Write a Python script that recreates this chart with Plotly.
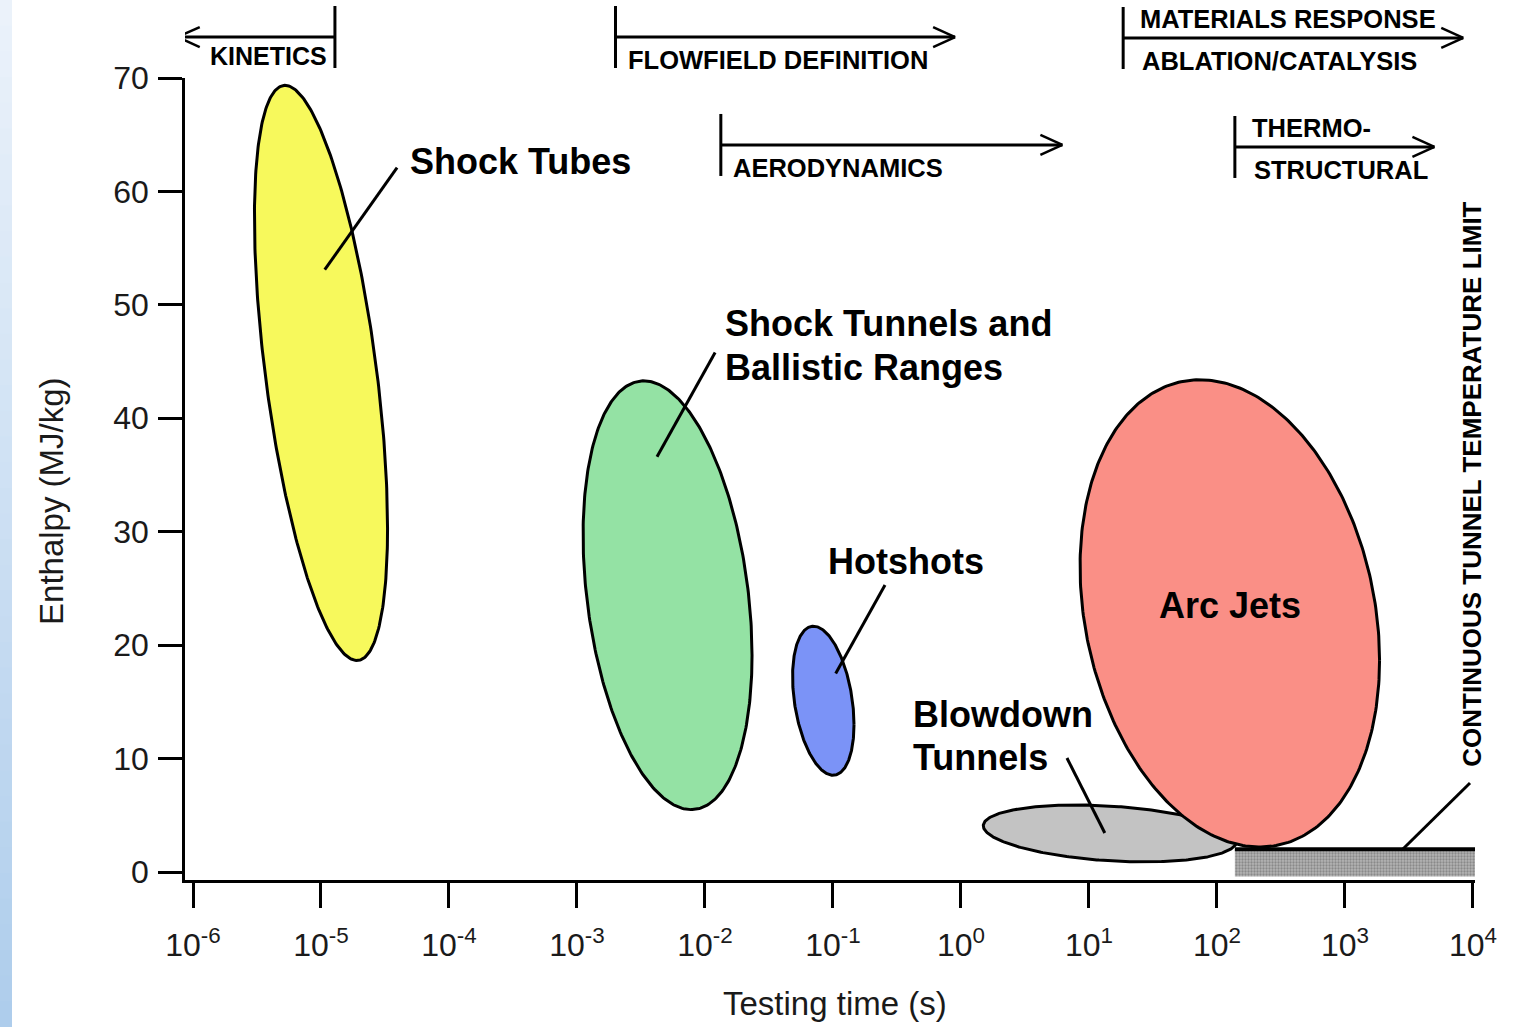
import numpy as np
import plotly.graph_objects as go

# ---------------- data ----------------
# Facility envelopes (ellipses in log(time)-enthalpy space)
facilities = ["Shock Tubes", "Shock Tunnels and Ballistic Ranges", "Hotshots",
              "Blowdown Tunnels", "Arc Jets"]
center_time = [1.0e-5, 5.1e-3, 8.4e-2, 14.6, 126.0]          # s
center_enthalpy = [44.0, 24.4, 15.1, 3.4, 22.8]               # MJ/kg
half_width_decades = [0.52, 0.66, 0.24, 0.99, 1.17]
half_height_enthalpy = [25.35, 18.9, 6.57, 2.51, 20.6]
tilt = [-0.54, -0.28, -0.32, -0.27, -0.20]
fill_colors = ["#f7f95c", "#94e2a4", "#7b93f7", "#c3c3c3", "#fa8f86"]

# Facility labels
label_text = ["Shock Tubes", "Shock Tunnels and", "Ballistic Ranges", "Hotshots",
              "Blowdown", "Tunnels", "Arc Jets"]
label_time = [4.79e-5, 1.38e-2, 1.38e-2, 8.81e-2, 0.406, 0.406, 126.0]
label_enthalpy = [62.6, 48.4, 44.5, 27.4, 13.9, 10.1, 23.5]
label_anchor = ["left", "left", "left", "left", "left", "left", "center"]

# Leader lines
leader_time = [[3.93e-5, 1.07e-5], [1.20e-2, 4.22e-3], [0.255, 0.105],
               [6.73, 13.3], [2838, 9484]]
leader_enthalpy = [[62.1, 53.1], [45.8, 36.6], [25.3, 17.5],
                   [10.05, 3.44], [2.03, 7.85]]

# Continuous tunnel temperature limit band
limit_time = [138.0, 1.04e4]
limit_enthalpy = [-0.4, 2.0]

# Test regimes (header arrows): start time, arrow tip time
regime_upper = ["", "", "", "MATERIALS RESPONSE", "THERMO-"]
regime_lower = ["KINETICS", "FLOWFIELD DEFINITION", "AERODYNAMICS",
                "ABLATION/CATALYSIS", "STRUCTURAL"]
regime_start = [1.285e-5, 2.0e-3, 1.33e-2, 18.5, 138.0]
regime_end = [7.6e-7, 0.9, 6.2, 8400.0, 5000.0]
regime_row = [1.0511, 1.0511, 0.9165, 1.0499, 0.9140]   # paper y of arrow line

x_tick_vals = [1e-6, 1e-5, 1e-4, 1e-3, 1e-2, 1e-1, 1e0, 1e1, 1e2, 1e3, 1e4]
x_tick_text = ["10<sup>-6</sup>", "10<sup>-5</sup>", "10<sup>-4</sup>", "10<sup>-3</sup>",
               "10<sup>-2</sup>", "10<sup>-1</sup>", "10<sup>0</sup>", "10<sup>1</sup>",
               "10<sup>2</sup>", "10<sup>3</sup>", "10<sup>4</sup>"]
y_tick_vals = [0, 10, 20, 30, 40, 50, 60, 70]

FONT = "Liberation Sans, Arial, sans-serif"

fig = go.Figure()

# continuous limit band
fig.add_trace(go.Scatter(
    x=[limit_time[0], limit_time[1], limit_time[1], limit_time[0], limit_time[0]],
    y=[limit_enthalpy[0], limit_enthalpy[0], limit_enthalpy[1], limit_enthalpy[1], limit_enthalpy[0]],
    mode="lines", fill="toself", line=dict(width=0, color="rgba(0,0,0,0)"),
    fillcolor="#a0a0a0",
    fillpattern=dict(shape=".", fgcolor="#5e5e5e", bgcolor="#b4b4b4", size=3, solidity=0.45),
    hoverinfo="skip", showlegend=False))
fig.add_trace(go.Scatter(
    x=limit_time, y=[limit_enthalpy[1], limit_enthalpy[1]], mode="lines",
    line=dict(color="black", width=4), hoverinfo="skip", showlegend=False))

# ellipses
t = np.linspace(0, 2 * np.pi, 361)
for i, name in enumerate(facilities):
    lx = np.log10(center_time[i]) + half_width_decades[i] * np.cos(t)
    r = tilt[i]
    yy = center_enthalpy[i] + half_height_enthalpy[i] * (r * np.cos(t) + np.sqrt(1 - r * r) * np.sin(t))
    fig.add_trace(go.Scatter(
        x=10 ** lx, y=yy, mode="lines", fill="toself", fillcolor=fill_colors[i],
        line=dict(color="black", width=3), name=name, hoverinfo="name", showlegend=False))

# leader lines
for lt, le in zip(leader_time, leader_enthalpy):
    fig.add_trace(go.Scatter(x=lt, y=le, mode="lines", line=dict(color="black", width=3),
                             hoverinfo="skip", showlegend=False))

annotations = []
for txt, lt, le, anc in zip(label_text, label_time, label_enthalpy, label_anchor):
    annotations.append(dict(x=np.log10(lt), y=le, xref="x", yref="y", text="<b>%s</b>" % txt,
                            showarrow=False, xanchor=anc, yanchor="middle",
                            font=dict(family=FONT, size=36, color="black")))

PX_PER_DECADE = 128.0
shapes = []
for i in range(len(regime_lower)):
    s, e, row = regime_start[i], regime_end[i], regime_row[i]
    # start bar
    shapes.append(dict(type="line", xref="x", yref="paper", x0=s, x1=s,
                       ysizemode="pixel", yanchor=row, y0=-31, y1=31,
                       line=dict(color="black", width=3)))
    # main line
    shapes.append(dict(type="line", xref="x", yref="paper", x0=s, x1=e, y0=row, y1=row,
                       line=dict(color="black", width=3)))
    # open chevron head
    back = e * 10 ** ((22 if e < s else -22) / PX_PER_DECADE)
    for dy in (10, -10):
        shapes.append(dict(type="line", xref="x", yref="paper", x0=e, x1=back,
                           ysizemode="pixel", yanchor=row, y0=0, y1=dy,
                           line=dict(color="black", width=2.5)))
    lx = np.log10(s)
    if i == 0:
        annotations.append(dict(x=lx, y=row, xref="x", yref="paper", yshift=-19, xshift=-6,
                                text="<b>%s</b>" % regime_lower[i], showarrow=False,
                                xanchor="right", yanchor="middle",
                                font=dict(family=FONT, size=25, color="black")))
    else:
        shift = 10 if i < 3 else 17
        annotations.append(dict(x=lx, y=row, xref="x", yref="paper", yshift=-23, xshift=shift,
                                text="<b>%s</b>" % regime_lower[i], showarrow=False,
                                xanchor="left", yanchor="middle",
                                font=dict(family=FONT, size=25.5, color="black")))
        if regime_upper[i]:
            annotations.append(dict(x=lx, y=row, xref="x", yref="paper", yshift=19, xshift=15,
                                    text="<b>%s</b>" % regime_upper[i], showarrow=False,
                                    xanchor="left", yanchor="middle",
                                    font=dict(family=FONT, size=25.5, color="black")))

# vertical limit label
annotations.append(dict(x=3.99, y=34.2, xref="x", yref="y", text="<b>CONTINUOUS TUNNEL TEMPERATURE LIMIT</b>",
                        textangle=-90, showarrow=False, xanchor="center", yanchor="middle",
                        font=dict(family=FONT, size=26, color="black")))

# axis titles
annotations.append(dict(x=0.5039, y=-0.1534, xref="paper", yref="paper", text="Testing time (s)",
                        showarrow=False, xanchor="center", yanchor="middle",
                        font=dict(family=FONT, size=33, color="#1a1a1a")))
annotations.append(dict(x=-0.1031, y=0.4726, xref="paper", yref="paper", text="Enthalpy (MJ/kg)",
                        textangle=-90, showarrow=False, xanchor="center", yanchor="middle",
                        font=dict(family=FONT, size=33, color="#1a1a1a")))

# left decorative gradient strip
n_strip = 40
top_c = np.array([236, 243, 251])
bot_c = np.array([174, 205, 236])
y_top_p = 880 / 802
y_bot_p = (880 - 1027) / 802
for k in range(n_strip):
    f = (k + 0.5) / n_strip
    c = (top_c + (bot_c - top_c) * f).astype(int)
    y0 = y_top_p + (y_bot_p - y_top_p) * k / n_strip
    y1 = y_top_p + (y_bot_p - y_top_p) * (k + 1) / n_strip
    shapes.append(dict(type="rect", xref="paper", yref="paper", x0=-185 / 1290, x1=(12 - 185) / 1290,
                       y0=y0, y1=y1 - 0.001, fillcolor="rgb(%d,%d,%d)" % tuple(c),
                       line=dict(width=0), layer="below"))

fig.update_layout(
    width=1523, height=1027,
    margin=dict(l=185, r=48, t=78, b=147),
    paper_bgcolor="white", plot_bgcolor="white",
    showlegend=False,
    shapes=shapes, annotations=annotations,
    xaxis=dict(type="log", range=[-6.0625, 4.016], tickvals=x_tick_vals, ticktext=x_tick_text,
               ticks="outside", ticklen=25, tickwidth=2.5, tickcolor="black",
               showline=True, linewidth=2.5, linecolor="black", showgrid=False, zeroline=False,
               ticklabelstandoff=10,
               tickfont=dict(family=FONT, size=32, color="#1a1a1a")),
    yaxis=dict(range=[-0.705, 70], tickvals=y_tick_vals,
               ticks="outside", ticklen=24, tickwidth=2.5, tickcolor="black",
               showline=True, linewidth=2.5, linecolor="black", showgrid=False, zeroline=False,
               ticklabelstandoff=3,
               tickfont=dict(family=FONT, size=32, color="#1a1a1a")),
)

fig.write_html("out.html", config={"displayModeBar": False},
               post_script="document.body.style.margin='0';document.body.style.overflow='hidden';")
